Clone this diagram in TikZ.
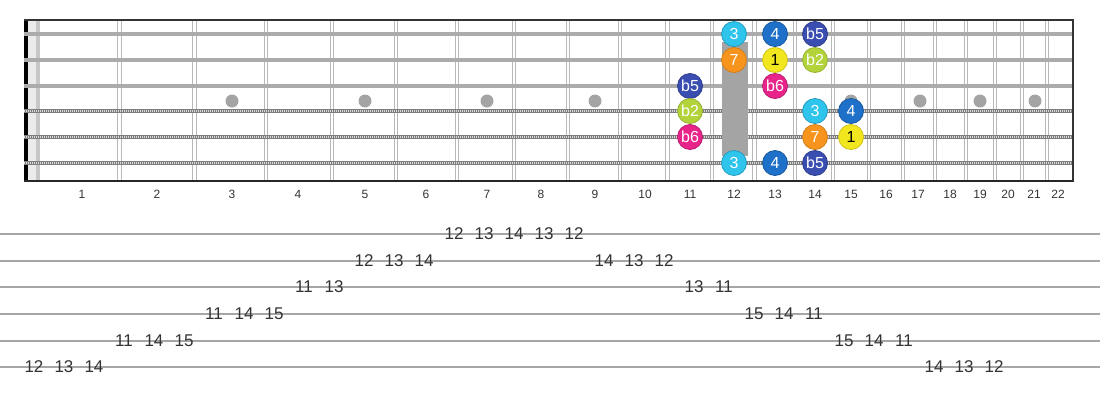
\documentclass[tikz,border=0pt]{standalone}
\usepackage{fontspec}
\setmainfont{Liberation Sans}
\usepackage{xcolor}

\definecolor{degthree}{HTML}{2EC4EC}
\definecolor{degfour}{HTML}{1F70C8}
\definecolor{degflatfive}{HTML}{3A4DB0}
\definecolor{degseven}{HTML}{F7941D}
\definecolor{degone}{HTML}{F2E61E}
\definecolor{degflattwo}{HTML}{B3D33A}
\definecolor{degflatsix}{HTML}{E8248A}
\definecolor{fretgray}{HTML}{B8B8B8}
\definecolor{stringgray}{HTML}{ABABAB}
\definecolor{woundgray}{HTML}{7E7E7E}
\definecolor{inlaygray}{HTML}{A4A4A4}
\definecolor{tabgray}{HTML}{A6A6A6}
\definecolor{labeltext}{HTML}{333333}

\begin{document}
\begin{tikzpicture}[x=1pt, y=-1pt,
    fretline/.style={draw=fretgray, line width=1.2pt},
    plainstring/.style={draw=stringgray, line width=3.2pt},
    woundstring/.style={draw=woundgray, line width=4pt},
    woundtexture/.style={draw=white!85!black, line width=1.6pt, dash pattern=on 0.9pt off 1.1pt},
    inlay/.style={fill=inlaygray},
    fretnum/.style={text=labeltext, font=\fontsize{12}{12}\selectfont},
    tabline/.style={draw=tabgray, line width=1.4pt},
    tabnum/.style={text=labeltext, inner sep=1pt, font=\fontsize{17}{17}\selectfont},
    note/.style={circle, minimum size=25pt, inner sep=0pt, line width=0.8pt,
      text=white, font=\fontsize{16}{16}\selectfont},
    nthree/.style={note, fill=degthree, draw=degthree!80!black},
    nfour/.style={note, fill=degfour, draw=degfour!80!black},
    nbfive/.style={note, fill=degflatfive, draw=degflatfive!80!black},
    nseven/.style={note, fill=degseven, draw=degseven!85!black},
    none/.style={note, fill=degone, draw=degone!85!black, text=black},
    nbtwo/.style={note, fill=degflattwo, draw=degflattwo!85!black},
    nbsix/.style={note, fill=degflatsix, draw=degflatsix!80!black}]

    \useasboundingbox (0,0) rectangle (1100,400);

    % fretboard
    \fill[black!8] (28,20) rectangle (40,181);
    \fill[black!22] (36,20) rectangle (40,181);
    \foreach \x in {119.5,194.5,266,332,396,457,514,568,620,667.5,712,754.5,795,833,869,903,935,966,995,1022,1047}
    {
      \draw[fretline] (\x-1.8,20) -- (\x-1.8,182);
      \draw[fretline] (\x+1.8,20) -- (\x+1.8,182);
    }

    % strings
    \coordinate (s1l) at (24,34);   \coordinate (s1r) at (1073,34);
    \coordinate (s2l) at (24,60);   \coordinate (s2r) at (1073,60);
    \coordinate (s3l) at (24,86);   \coordinate (s3r) at (1073,86);
    \coordinate (s4l) at (24,111);  \coordinate (s4r) at (1073,111);
    \coordinate (s5l) at (24,137);  \coordinate (s5r) at (1073,137);
    \coordinate (s6l) at (24,163);  \coordinate (s6r) at (1073,163);

    \fill[black] (24,19) rectangle (28,182);
    \draw[plainstring] (s1l) -- (s1r);
    \draw[plainstring] (s2l) -- (s2r);
    \draw[plainstring] (s3l) -- (s3r);
    \foreach \s in {4,5,6}
    {
      \draw[woundstring] (s\s l) -- (s\s r);
      \draw[woundtexture] (s\s l) -- (s\s r);
    }

    % inlays
    \foreach \x in {232,365,487,595,851,920,980,1035}
      \fill[inlay] (\x,101) circle (6.5);
    \fill[inlay] (722,42) rectangle (748,156);

    % frame
    \draw[black!80, line width=2pt] (24,20) -- (1074,20);
    \draw[black!85, line width=2pt] (24,181) -- (1074,181);
    \draw[black!80, line width=2pt] (1073,20) -- (1073,181);

    % fret numbers
    \foreach \x/\n in {82/1,157/2,232/3,298/4,365/5,426/6,487/7,541/8,595/9,645/10,690/11,
                       734/12,775/13,815/14,851/15,886/16,918/17,950/18,980/19,1008/20,1034/21,1058/22}
      \node[fretnum] (fn\n) at (\x,194) {\n};

    % scale degrees
    \node[nthree] (s1f12) at (734,34) {3};
    \node[nfour]  (s1f13) at (775,34) {4};
    \node[nbfive] (s1f14) at (815,34) {b5};

    \node[nseven] (s2f12) at (734,60) {7};
    \node[none]   (s2f13) at (775,60) {1};
    \node[nbtwo]  (s2f14) at (815,60) {b2};

    \node[nbfive] (s3f11) at (690,86) {b5};
    \node[nbsix]  (s3f13) at (775,86) {b6};

    \node[nbtwo]  (s4f11) at (690,111) {b2};
    \node[nthree] (s4f14) at (815,111) {3};
    \node[nfour]  (s4f15) at (851,111) {4};

    \node[nbsix]  (s5f11) at (690,137) {b6};
    \node[nseven] (s5f14) at (815,137) {7};
    \node[none]   (s5f15) at (851,137) {1};

    \node[nthree] (s6f12) at (734,163) {3};
    \node[nfour]  (s6f13) at (775,163) {4};
    \node[nbfive] (s6f14) at (815,163) {b5};

    % tab
    \foreach \l/\y in {1/234,2/261,3/287,4/314,5/341,6/367}
    {
      \coordinate (t\l l) at (0,\y);
      \coordinate (t\l r) at (1100,\y);
      \draw[tabline] (t\l l) -- (t\l r);
    }

    \node[tabnum] (t6a) at (34,367) {12};
    \node[tabnum] (t6b) at (64,367) {13};
    \node[tabnum] (t6c) at (94,367) {14};
    \node[tabnum] (t5a) at (124,341) {11};
    \node[tabnum] (t5b) at (154,341) {14};
    \node[tabnum] (t5c) at (184,341) {15};
    \node[tabnum] (t4a) at (214,314) {11};
    \node[tabnum] (t4b) at (244,314) {14};
    \node[tabnum] (t4c) at (274,314) {15};
    \node[tabnum] (t3a) at (304,287) {11};
    \node[tabnum] (t3b) at (334,287) {13};
    \node[tabnum] (t2a) at (364,261) {12};
    \node[tabnum] (t2b) at (394,261) {13};
    \node[tabnum] (t2c) at (424,261) {14};
    \node[tabnum] (t1a) at (454,234) {12};
    \node[tabnum] (t1b) at (484,234) {13};
    \node[tabnum] (t1c) at (514,234) {14};
    \node[tabnum] (t1d) at (544,234) {13};
    \node[tabnum] (t1e) at (574,234) {12};
    \node[tabnum] (t2d) at (604,261) {14};
    \node[tabnum] (t2e) at (634,261) {13};
    \node[tabnum] (t2f) at (664,261) {12};
    \node[tabnum] (t3c) at (694,287) {13};
    \node[tabnum] (t3d) at (724,287) {11};
    \node[tabnum] (t4d) at (754,314) {15};
    \node[tabnum] (t4e) at (784,314) {14};
    \node[tabnum] (t4f) at (814,314) {11};
    \node[tabnum] (t5d) at (844,341) {15};
    \node[tabnum] (t5e) at (874,341) {14};
    \node[tabnum] (t5f) at (904,341) {11};
    \node[tabnum] (t6d) at (934,367) {14};
    \node[tabnum] (t6e) at (964,367) {13};
    \node[tabnum] (t6f) at (994,367) {12};

\end{tikzpicture}
\end{document}
